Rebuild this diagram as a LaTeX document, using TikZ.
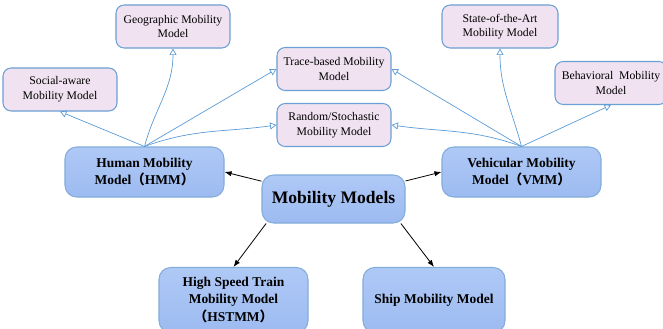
\documentclass[tikz,border=0pt]{standalone}
\usepackage{fontspec}
\setmainfont{Liberation Serif}
\newfontfamily\cjk{Noto Sans CJK SC}
\usetikzlibrary{arrows.meta}

\definecolor{sousfond}{HTML}{F0E2F0}
\definecolor{bordbleu}{HTML}{6C9FD4}
\definecolor{fondhaut}{HTML}{AFC9F6}
\definecolor{fondbas}{HTML}{9DBBF1}
\definecolor{flechebleue}{HTML}{5B9BD5}

\tikzset{
	sousmodele/.style={draw=bordbleu, line width=0.9pt, fill=sousfond, rounded corners=7pt,
		minimum width=3.42cm, minimum height=1.29cm, align=center, inner sep=1pt,
		font=\fontsize{10}{12.5}\selectfont},
	famille/.style={draw=bordbleu!85, line width=0.9pt, top color=fondhaut, bottom color=fondbas,
		rounded corners=10pt, minimum width=4.77cm, minimum height=1.5cm, align=center,
		inner sep=1pt, font=\fontsize{11.5}{15}\selectfont\bfseries},
	lien/.style={-{Triangle[open, width=6pt, length=5.5pt]}, flechebleue, line width=0.6pt},
	branche/.style={-{Latex[length=6pt, width=4.5pt]}, black, line width=0.7pt}
}

\begin{document}
\begin{tikzpicture}[x=0.03cm, y=0.03cm]
		
		\useasboundingbox (0,0) rectangle (663,328);
		
		% Noeud central
		\node[famille, minimum width=4.29cm, minimum height=1.44cm, font=\fontsize{15}{18}\selectfont\bfseries] (mm) at (333.5,129) {Mobility Models};
		
		% Grandes familles
		\node[famille] (hmm) at (144.5,156) {Human Mobility\\Model{\cjk （}HMM{\cjk ）}};
		\node[famille] (vmm) at (521.5,156) {Vehicular Mobility\\Model{\cjk （}VMM{\cjk ）}};
		\node[famille, minimum width=4.47cm, minimum height=1.95cm] (hst) at (233.5,28) {High Speed Train\\Mobility Model\\{\cjk （}HSTMM{\cjk ）}};
		\node[famille, minimum width=4.26cm, minimum height=1.95cm] (ship) at (434,28) {Ship Mobility Model};
		
		% Sous-modeles
		\node[sousmodele] (social) at (60,238.5) {Social-aware\\Mobility Model};
		\node[sousmodele] (geo) at (173,301.5) {Geographic Mobility\\Model};
		\node[sousmodele] (trace) at (334,259) {Trace-based Mobility\\Model};
		\node[sousmodele] (random) at (334,203) {Random/Stochastic\\Mobility Model};
		\node[sousmodele, minimum width=3.48cm] (state) at (500,301.5) {State-of-the-Art\\Mobility Model};
		\node[sousmodele, minimum width=3.36cm] (behav) at (611,245) {Behavioral~ Mobility\\Model};
		
		% Fleches noires depuis le centre
		\draw[branche] (mm) -- (hmm.east);
		\draw[branche] (mm) -- (vmm.west);
		\draw[branche] (mm.-160) -- (hst.north);
		\draw[branche] (mm.-20) -- (ship.north);
		
		% Fleches bleues (HMM)
		\draw[lien] (hmm.north) -- (social.south);
		\draw[lien] (hmm.north) to[out=75, in=-90] (geo.south);
		\draw[lien] (hmm.north) -- (trace.west);
		\draw[lien] (hmm.north) to[out=20, in=188] (random.west);
		
		% Fleches bleues (VMM)
		\draw[lien] (vmm.north) to[out=105, in=-90] (state.south);
		\draw[lien] (vmm.north) -- (trace.east);
		\draw[lien] (vmm.north) to[out=160, in=-8] (random.east);
		\draw[lien] (vmm.north) -- (behav.south);
		
	\end{tikzpicture}
\end{document}
